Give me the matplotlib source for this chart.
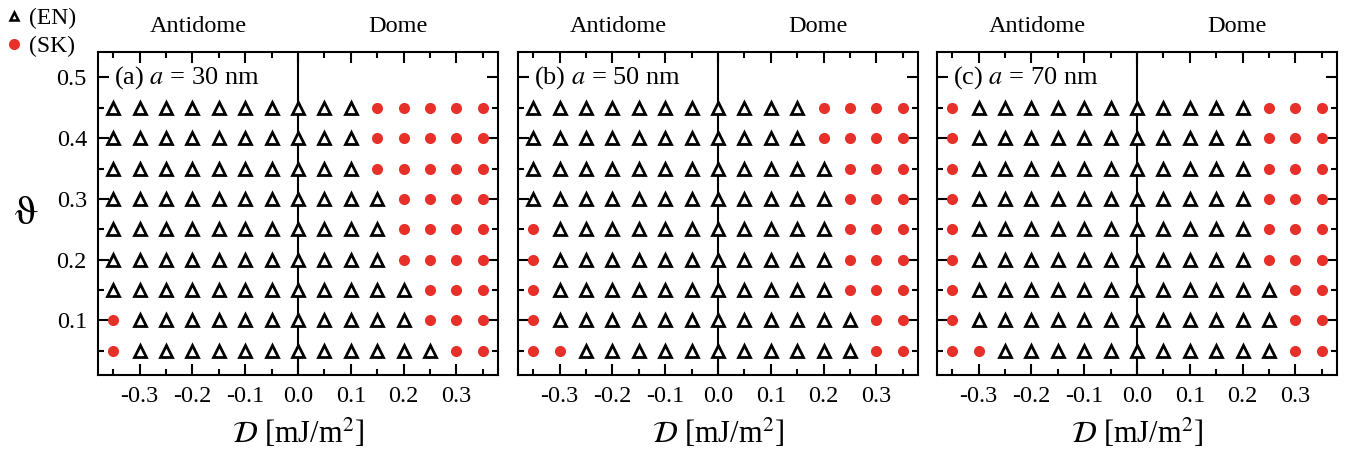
import matplotlib
matplotlib.use("Agg")
import matplotlib.pyplot as plt
from matplotlib.lines import Line2D
from matplotlib.ticker import FixedLocator

plt.rcParams['font.family'] = ['Liberation Serif', 'DejaVu Serif']
plt.rcParams['mathtext.fontset'] = 'stix'

# Data: DMI values (columns) and theta values (rows, top to bottom)
D_values = [-0.35, -0.30, -0.25, -0.20, -0.15, -0.10, -0.05, 0.0,
            0.05, 0.10, 0.15, 0.20, 0.25, 0.30, 0.35]
theta_values = [0.45, 0.40, 0.35, 0.30, 0.25, 0.20, 0.15, 0.10, 0.05]

# Phase grids: E = EN (triangle), S = SK (red circle); rows follow theta_values
phase_a = [
    "EEEEEEEEEESSSSS",
    "EEEEEEEEEESSSSS",
    "EEEEEEEEEESSSSS",
    "EEEEEEEEEEESSSS",
    "EEEEEEEEEEESSSS",
    "EEEEEEEEEEESSSS",
    "EEEEEEEEEEEESSS",
    "SEEEEEEEEEEESSS",
    "SEEEEEEEEEEEESS",
]
phase_b = [
    "EEEEEEEEEEESSSS",
    "EEEEEEEEEEESSSS",
    "EEEEEEEEEEEESSS",
    "EEEEEEEEEEEESSS",
    "SEEEEEEEEEEESSS",
    "SEEEEEEEEEEESSS",
    "SEEEEEEEEEEESSS",
    "SEEEEEEEEEEEESS",
    "SSEEEEEEEEEEESS",
]
phase_c = [
    "SEEEEEEEEEEESSS",
    "SEEEEEEEEEEESSS",
    "SEEEEEEEEEEESSS",
    "SEEEEEEEEEEESSS",
    "SEEEEEEEEEEESSS",
    "SEEEEEEEEEEESSS",
    "SEEEEEEEEEEEESS",
    "SEEEEEEEEEEEESS",
    "SSEEEEEEEEEEESS",
]
panel_labels = ["(a) $\\mathit{a}$ = 30 nm", "(b) $\\mathit{a}$ = 50 nm", "(c) $\\mathit{a}$ = 70 nm"]
phases = [phase_a, phase_b, phase_c]
x_ticks = [-0.3, -0.2, -0.1, 0.0, 0.1, 0.2, 0.3]
x_ticklabels = ["-0.3", "-0.2", "-0.1", "0.0", "0.1", "0.2", "0.3"]
y_ticks = [0.1, 0.2, 0.3, 0.4, 0.5]
y_ticklabels = ["0.1", "0.2", "0.3", "0.4", "0.5"]

RED = "#e8302a"

fig = plt.figure(figsize=(13.56, 4.58), dpi=100)
lefts = [98 / 1356, 518 / 1356, 937 / 1356]
W = 400 / 1356
B = 1 - 375 / 458
H = (375 - 52) / 458

for i, (grid, lab) in enumerate(zip(phases, panel_labels)):
    ax = fig.add_axes([lefts[i], B, W, H])
    ex, ey, sx, sy = [], [], [], []
    for r, row in enumerate(grid):
        for c, ch in enumerate(row):
            if ch == "S":
                sx.append(D_values[c]); sy.append(theta_values[r])
            else:
                ex.append(D_values[c]); ey.append(theta_values[r])
    ax.axvline(0.0, color='black', lw=1.5, zorder=1)
    ax.plot(ex, ey, ls='none', marker='^', ms=8.5, mfc='white', mec='black',
            mew=2.0, zorder=3)
    ax.plot(sx, sy, ls='none', marker='o', ms=8, mfc=RED, mec=RED, mew=0,
            zorder=3)
    ax.set_xlim(-0.379, 0.379)
    ax.set_ylim(0.01, 0.542)
    ax.xaxis.set_major_locator(FixedLocator(x_ticks))
    ax.xaxis.set_minor_locator(FixedLocator([-0.35, -0.25, -0.15, -0.05, 0.05, 0.15, 0.25, 0.35]))
    ax.yaxis.set_major_locator(FixedLocator(y_ticks))
    ax.yaxis.set_minor_locator(FixedLocator([0.05, 0.15, 0.25, 0.35, 0.45]))
    ax.set_xticklabels(x_ticklabels)
    ax.tick_params(which='both', direction='in', top=True, right=True, width=1.5,
                   labelsize=17.5, pad=8)
    ax.tick_params(which='major', length=8)
    ax.tick_params(which='minor', length=4)
    if i == 0:
        ax.set_yticklabels(y_ticklabels)
        ax.set_ylabel("$\\mathrm{\\vartheta}$", fontsize=30, rotation=0,
                      labelpad=22, va='center')
    else:
        ax.tick_params(axis='y', labelleft=False)
    for s in ax.spines.values():
        s.set_linewidth(1.5)
    ax.set_xlabel("$\\mathcal{D}$ [mJ/m$^2$]", fontsize=22, labelpad=7)
    ax.text(0.25, 1.045, "Antidome", transform=ax.transAxes, ha='center',
            va='bottom', fontsize=17.5)
    ax.text(0.75, 1.045, "Dome", transform=ax.transAxes, ha='center',
            va='bottom', fontsize=17.5)
    ax.text(0.04, (0.5 - 0.01) / (0.542 - 0.01), lab, transform=ax.transAxes,
            ha='left', va='center', fontsize=19)

handles = [Line2D([], [], ls='none', marker='^', ms=6, mfc='white', mec='black', mew=1.8),
           Line2D([], [], ls='none', marker='o', ms=8, mfc=RED, mec=RED, mew=0)]
fig.legend(handles, ["(EN)", "(SK)"], loc='upper left', bbox_to_anchor=(-0.005, 1.015),
           frameon=False, fontsize=17, handlelength=0.6, handletextpad=0.3,
           labelspacing=0.3, borderaxespad=0.2)

fig.savefig("out.png", dpi=100)
